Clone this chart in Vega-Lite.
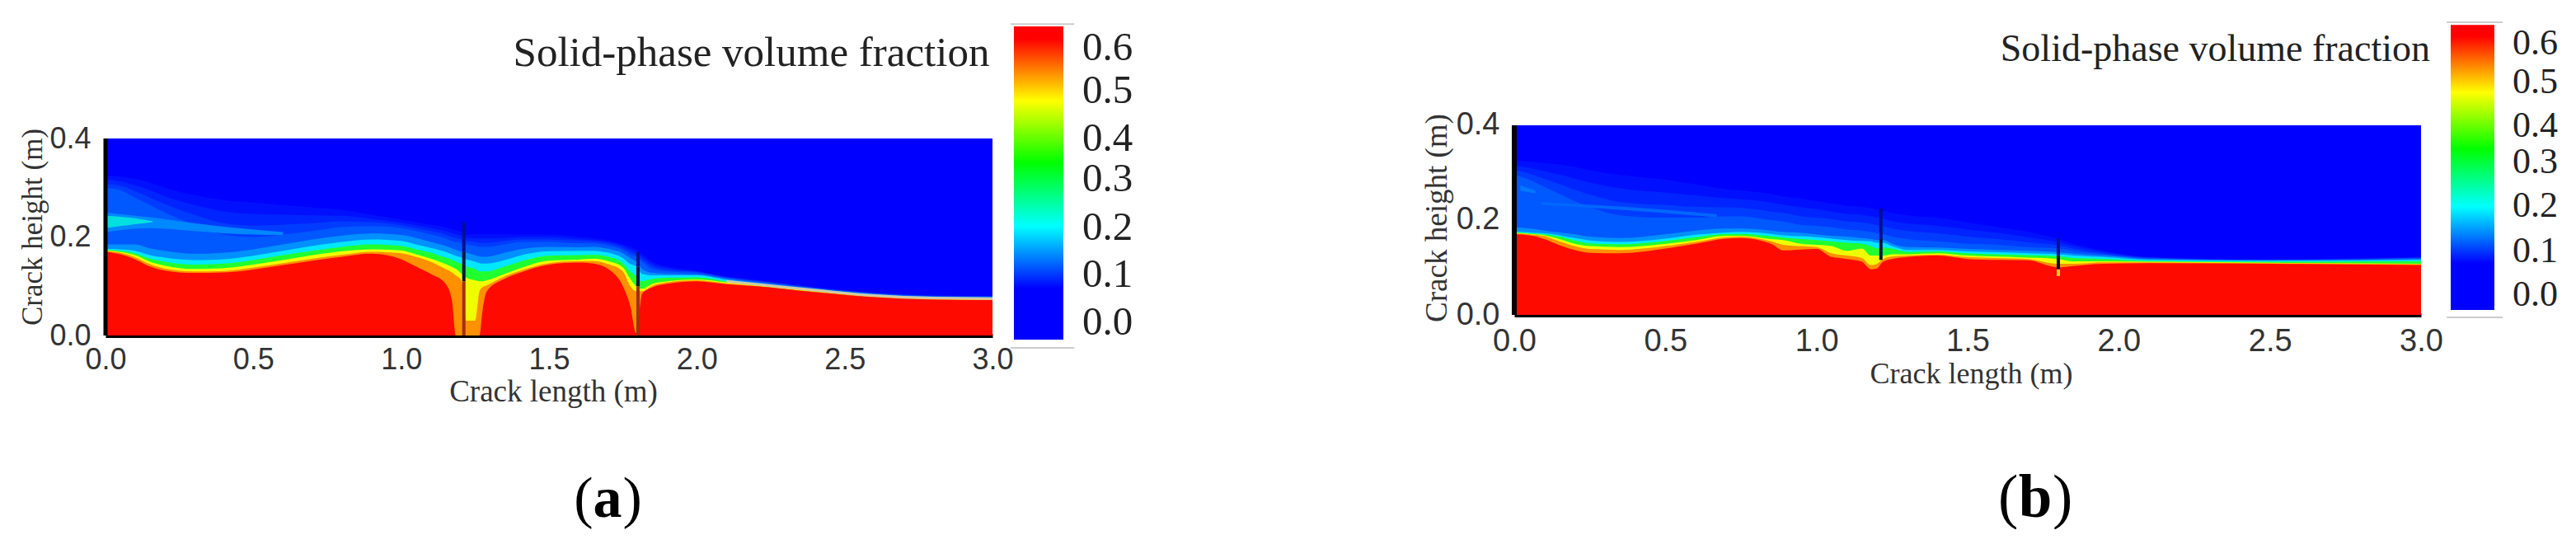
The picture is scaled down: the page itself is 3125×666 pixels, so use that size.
{
"$schema":"https://vega.github.io/schema/vega-lite/v6.json",
"padding":{"left":22,"top":0,"right":0,"bottom":0},
"background":"white",
"config":{"view":{"stroke":null},"axis":{"grid":false,"ticks":false}},
"datasets":{
"bandsA":[
{"x":0,"r":0.17,"o":0.172,"y":0.173,"g":0.174,"c":0.176,"b3":0.185,"b2":0.3,"h3":0.308,"h2":0.317,"b1":0.325},
{"x":0.05,"r":0.165,"o":0.168,"y":0.17,"g":0.172,"c":0.175,"b3":0.185,"b2":0.295,"h3":0.304,"h2":0.313,"b1":0.322},
{"x":0.1,"r":0.155,"o":0.159,"y":0.163,"g":0.167,"c":0.172,"b3":0.185,"b2":0.28,"h3":0.293,"h2":0.305,"b1":0.318},
{"x":0.15,"r":0.14,"o":0.145,"y":0.15,"g":0.156,"c":0.163,"b3":0.177,"b2":0.265,"h3":0.28,"h2":0.295,"b1":0.31},
{"x":0.2,"r":0.132,"o":0.136,"y":0.142,"g":0.15,"c":0.158,"b3":0.172,"b2":0.25,"h3":0.267,"h2":0.283,"b1":0.3},
{"x":0.3,"r":0.127,"o":0.13,"y":0.135,"g":0.144,"c":0.153,"b3":0.166,"b2":0.225,"h3":0.245,"h2":0.265,"b1":0.285},
{"x":0.4,"r":0.128,"o":0.131,"y":0.137,"g":0.146,"c":0.155,"b3":0.168,"b2":0.205,"h3":0.228,"h2":0.252,"b1":0.275},
{"x":0.5,"r":0.134,"o":0.138,"y":0.144,"g":0.153,"c":0.162,"b3":0.175,"b2":0.2,"h3":0.223,"h2":0.247,"b1":0.27},
{"x":0.6,"r":0.143,"o":0.147,"y":0.153,"g":0.163,"c":0.172,"b3":0.185,"b2":0.205,"h3":0.225,"h2":0.245,"b1":0.265},
{"x":0.7,"r":0.152,"o":0.156,"y":0.163,"g":0.172,"c":0.182,"b3":0.195,"b2":0.212,"h3":0.228,"h2":0.244,"b1":0.26},
{"x":0.8,"r":0.16,"o":0.164,"y":0.171,"g":0.18,"c":0.19,"b3":0.203,"b2":0.22,"h3":0.232,"h2":0.243,"b1":0.255},
{"x":0.9,"r":0.166,"o":0.17,"y":0.175,"g":0.185,"c":0.195,"b3":0.207,"b2":0.222,"h3":0.23,"h2":0.237,"b1":0.245},
{"x":1.0,"r":0.155,"o":0.167,"y":0.173,"g":0.182,"c":0.192,"b3":0.204,"b2":0.218,"h3":0.224,"h2":0.229,"b1":0.235},
{"x":1.05,"r":0.14,"o":0.16,"y":0.165,"g":0.175,"c":0.185,"b3":0.198,"b2":0.212,"h3":0.218,"h2":0.224,"b1":0.23},
{"x":1.1,"r":0.125,"o":0.15,"y":0.156,"g":0.168,"c":0.178,"b3":0.19,"b2":0.205,"h3":0.212,"h2":0.218,"b1":0.225},
{"x":1.15,"r":0.105,"o":0.135,"y":0.145,"g":0.158,"c":0.17,"b3":0.182,"b2":0.197,"h3":0.205,"h2":0.212,"b1":0.22},
{"x":1.172,"r":0.07,"o":0.128,"y":0.139,"g":0.154,"c":0.165,"b3":0.177,"b2":0.192,"h3":0.2,"h2":0.208,"b1":0.216},
{"x":1.185,"r":0,"o":0.122,"y":0.135,"g":0.15,"c":0.162,"b3":0.174,"b2":0.19,"h3":0.198,"h2":0.206,"b1":0.214},
{"x":1.205,"r":0,"o":0.11,"y":0.125,"g":0.145,"c":0.158,"b3":0.17,"b2":0.187,"h3":0.195,"h2":0.202,"b1":0.21},
{"x":1.22,"r":0,"o":0.03,"y":0.118,"g":0.14,"c":0.155,"b3":0.168,"b2":0.185,"h3":0.192,"h2":0.198,"b1":0.205},
{"x":1.25,"r":0,"o":0.03,"y":0.112,"g":0.135,"c":0.15,"b3":0.163,"b2":0.182,"h3":0.19,"h2":0.197,"b1":0.205},
{"x":1.265,"r":0,"o":0.09,"y":0.11,"g":0.13,"c":0.147,"b3":0.16,"b2":0.18,"h3":0.188,"h2":0.197,"b1":0.205},
{"x":1.275,"r":0.05,"o":0.098,"y":0.11,"g":0.13,"c":0.146,"b3":0.16,"b2":0.18,"h3":0.188,"h2":0.197,"b1":0.205},
{"x":1.29,"r":0.09,"o":0.102,"y":0.112,"g":0.13,"c":0.146,"b3":0.16,"b2":0.18,"h3":0.188,"h2":0.197,"b1":0.205},
{"x":1.35,"r":0.115,"o":0.12,"y":0.125,"g":0.14,"c":0.153,"b3":0.168,"b2":0.185,"h3":0.192,"h2":0.198,"b1":0.205},
{"x":1.4,"r":0.127,"o":0.131,"y":0.136,"g":0.15,"c":0.162,"b3":0.175,"b2":0.19,"h3":0.195,"h2":0.2,"b1":0.205},
{"x":1.5,"r":0.144,"o":0.147,"y":0.152,"g":0.162,"c":0.171,"b3":0.18,"b2":0.19,"h3":0.195,"h2":0.2,"b1":0.205},
{"x":1.6,"r":0.148,"o":0.151,"y":0.154,"g":0.163,"c":0.172,"b3":0.179,"b2":0.187,"h3":0.192,"h2":0.196,"b1":0.2},
{"x":1.65,"r":0.146,"o":0.151,"y":0.156,"g":0.164,"c":0.172,"b3":0.18,"b2":0.187,"h3":0.191,"h2":0.194,"b1":0.197},
{"x":1.7,"r":0.135,"o":0.145,"y":0.151,"g":0.16,"c":0.168,"b3":0.176,"b2":0.183,"h3":0.187,"h2":0.19,"b1":0.193},
{"x":1.75,"r":0.1,"o":0.13,"y":0.138,"g":0.147,"c":0.157,"b3":0.167,"b2":0.174,"h3":0.178,"h2":0.182,"b1":0.185},
{"x":1.775,"r":0.06,"o":0.1,"y":0.115,"g":0.13,"c":0.145,"b3":0.157,"b2":0.165,"h3":0.17,"h2":0.175,"b1":0.18},
{"x":1.795,"r":0.005,"o":0.09,"y":0.1,"g":0.12,"c":0.14,"b3":0.15,"b2":0.16,"h3":0.165,"h2":0.17,"b1":0.175},
{"x":1.815,"r":0.085,"o":0.09,"y":0.095,"g":0.11,"c":0.125,"b3":0.135,"b2":0.15,"h3":0.155,"h2":0.16,"b1":0.165},
{"x":1.85,"r":0.098,"o":0.101,"y":0.105,"g":0.115,"c":0.122,"b3":0.127,"b2":0.135,"h3":0.14,"h2":0.145,"b1":0.15},
{"x":1.9,"r":0.105,"o":0.108,"y":0.11,"g":0.117,"c":0.122,"b3":0.125,"b2":0.13,"h3":0.133,"h2":0.137,"b1":0.14},
{"x":2.0,"r":0.11,"o":0.112,"y":0.114,"g":0.118,"c":0.122,"b3":0.124,"b2":0.127,"h3":0.129,"h2":0.13,"b1":0.132},
{"x":2.1,"r":0.104,"o":0.106,"y":0.108,"g":0.11,"c":0.113,"b3":0.115,"b2":0.117,"h3":0.118,"h2":0.119,"b1":0.12},
{"x":2.2,"r":0.1,"o":0.101,"y":0.102,"g":0.104,"c":0.106,"b3":0.108,"b2":0.11,"h3":0.111,"h2":0.112,"b1":0.113},
{"x":2.4,"r":0.088,"o":0.089,"y":0.09,"g":0.092,"c":0.094,"b3":0.095,"b2":0.096,"h3":0.097,"h2":0.097,"b1":0.098},
{"x":2.6,"r":0.078,"o":0.079,"y":0.08,"g":0.081,"c":0.083,"b3":0.084,"b2":0.085,"h3":0.086,"h2":0.086,"b1":0.087},
{"x":2.8,"r":0.073,"o":0.074,"y":0.075,"g":0.076,"c":0.078,"b3":0.079,"b2":0.08,"h3":0.08,"h2":0.081,"b1":0.081},
{"x":3.0,"r":0.072,"o":0.073,"y":0.074,"g":0.075,"c":0.077,"b3":0.078,"b2":0.079,"h3":0.079,"h2":0.08,"b1":0.08}
],
"bandsB":[
{"x":0,"r":0.17,"o":0.172,"y":0.173,"g":0.175,"c":0.176,"b3":0.185,"b2":0.295,"h3":0.305,"h2":0.315,"b1":0.325},
{"x":0.05,"r":0.168,"o":0.17,"y":0.171,"g":0.172,"c":0.174,"b3":0.182,"b2":0.285,"h3":0.298,"h2":0.31,"b1":0.323},
{"x":0.1,"r":0.16,"o":0.166,"y":0.168,"g":0.17,"c":0.172,"b3":0.178,"b2":0.27,"h3":0.287,"h2":0.303,"b1":0.32},
{"x":0.15,"r":0.147,"o":0.155,"y":0.16,"g":0.165,"c":0.168,"b3":0.174,"b2":0.255,"h3":0.276,"h2":0.296,"b1":0.317},
{"x":0.2,"r":0.137,"o":0.145,"y":0.15,"g":0.157,"c":0.162,"b3":0.17,"b2":0.24,"h3":0.264,"h2":0.288,"b1":0.312},
{"x":0.25,"r":0.131,"o":0.139,"y":0.145,"g":0.151,"c":0.157,"b3":0.165,"b2":0.228,"h3":0.254,"h2":0.279,"b1":0.305},
{"x":0.35,"r":0.13,"o":0.137,"y":0.143,"g":0.149,"c":0.154,"b3":0.162,"b2":0.21,"h3":0.238,"h2":0.267,"b1":0.295},
{"x":0.5,"r":0.14,"o":0.145,"y":0.15,"g":0.156,"c":0.161,"b3":0.17,"b2":0.205,"h3":0.232,"h2":0.258,"b1":0.285},
{"x":0.6,"r":0.15,"o":0.154,"y":0.158,"g":0.164,"c":0.169,"b3":0.178,"b2":0.205,"h3":0.228,"h2":0.252,"b1":0.275},
{"x":0.7,"r":0.161,"o":0.164,"y":0.167,"g":0.171,"c":0.174,"b3":0.182,"b2":0.208,"h3":0.227,"h2":0.246,"b1":0.265},
{"x":0.75,"r":0.162,"o":0.165,"y":0.167,"g":0.171,"c":0.175,"b3":0.182,"b2":0.208,"h3":0.226,"h2":0.244,"b1":0.262},
{"x":0.85,"r":0.15,"o":0.155,"y":0.16,"g":0.166,"c":0.171,"b3":0.178,"b2":0.2,"h3":0.218,"h2":0.237,"b1":0.255},
{"x":0.89,"r":0.136,"o":0.148,"y":0.158,"g":0.163,"c":0.168,"b3":0.175,"b2":0.197,"h3":0.215,"h2":0.232,"b1":0.25},
{"x":0.95,"r":0.138,"o":0.145,"y":0.15,"g":0.16,"c":0.166,"b3":0.173,"b2":0.19,"h3":0.208,"h2":0.227,"b1":0.245},
{"x":1.0,"r":0.139,"o":0.143,"y":0.148,"g":0.158,"c":0.164,"b3":0.17,"b2":0.188,"h3":0.205,"h2":0.223,"b1":0.24},
{"x":1.05,"r":0.122,"o":0.13,"y":0.145,"g":0.155,"c":0.161,"b3":0.167,"b2":0.185,"h3":0.202,"h2":0.218,"b1":0.235},
{"x":1.1,"r":0.118,"o":0.125,"y":0.135,"g":0.152,"c":0.158,"b3":0.165,"b2":0.18,"h3":0.197,"h2":0.213,"b1":0.23},
{"x":1.15,"r":0.112,"o":0.12,"y":0.14,"g":0.15,"c":0.156,"b3":0.162,"b2":0.178,"h3":0.195,"h2":0.211,"b1":0.228},
{"x":1.18,"r":0.096,"o":0.105,"y":0.125,"g":0.145,"c":0.155,"b3":0.16,"b2":0.175,"h3":0.192,"h2":0.208,"b1":0.225},
{"x":1.2,"r":0.098,"o":0.108,"y":0.125,"g":0.14,"c":0.152,"b3":0.158,"b2":0.172,"h3":0.189,"h2":0.205,"b1":0.222},
{"x":1.22,"r":0.112,"o":0.118,"y":0.125,"g":0.142,"c":0.152,"b3":0.158,"b2":0.17,"h3":0.187,"h2":0.203,"b1":0.22},
{"x":1.25,"r":0.118,"o":0.123,"y":0.128,"g":0.14,"c":0.145,"b3":0.15,"b2":0.165,"h3":0.182,"h2":0.198,"b1":0.215},
{"x":1.3,"r":0.122,"o":0.125,"y":0.128,"g":0.133,"c":0.137,"b3":0.143,"b2":0.16,"h3":0.177,"h2":0.193,"b1":0.21},
{"x":1.4,"r":0.125,"o":0.127,"y":0.13,"g":0.134,"c":0.137,"b3":0.142,"b2":0.155,"h3":0.172,"h2":0.188,"b1":0.205},
{"x":1.5,"r":0.118,"o":0.122,"y":0.125,"g":0.13,"c":0.134,"b3":0.139,"b2":0.15,"h3":0.165,"h2":0.18,"b1":0.195},
{"x":1.6,"r":0.116,"o":0.12,"y":0.123,"g":0.128,"c":0.132,"b3":0.137,"b2":0.148,"h3":0.16,"h2":0.173,"b1":0.185},
{"x":1.7,"r":0.115,"o":0.118,"y":0.121,"g":0.126,"c":0.13,"b3":0.135,"b2":0.143,"h3":0.153,"h2":0.164,"b1":0.175},
{"x":1.8,"r":0.1,"o":0.108,"y":0.118,"g":0.124,"c":0.128,"b3":0.132,"b2":0.14,"h3":0.147,"h2":0.153,"b1":0.16},
{"x":1.85,"r":0.103,"o":0.108,"y":0.113,"g":0.12,"c":0.125,"b3":0.129,"b2":0.135,"h3":0.14,"h2":0.145,"b1":0.15},
{"x":1.95,"r":0.108,"o":0.111,"y":0.113,"g":0.118,"c":0.122,"b3":0.125,"b2":0.128,"h3":0.13,"h2":0.133,"b1":0.135},
{"x":2.1,"r":0.109,"o":0.111,"y":0.112,"g":0.114,"c":0.116,"b3":0.118,"b2":0.12,"h3":0.121,"h2":0.121,"b1":0.122},
{"x":2.5,"r":0.108,"o":0.109,"y":0.11,"g":0.112,"c":0.114,"b3":0.115,"b2":0.116,"h3":0.116,"h2":0.117,"b1":0.117},
{"x":3.0,"r":0.105,"o":0.107,"y":0.108,"g":0.113,"c":0.116,"b3":0.118,"b2":0.12,"h3":0.121,"h2":0.121,"b1":0.122}
],
"plumeA":[
{"x":0,"y":0.25,"y2":0.21,"p":"light"},{"x":0.15,"y":0.24,"y2":0.218,"p":"light"},{"x":0.3,"y":0.228,"y2":0.212,"p":"light"},{"x":0.45,"y":0.218,"y2":0.206,"p":"light"},{"x":0.6,"y":0.21,"y2":0.204,"p":"light"},
{"x":0,"y":0.243,"y2":0.218,"p":"bright"},{"x":0.05,"y":0.241,"y2":0.222,"p":"bright"},{"x":0.1,"y":0.238,"y2":0.226,"p":"bright"},{"x":0.16,"y":0.232,"y2":0.23,"p":"bright"}
],
"plumeB":[
{"x":0.09,"y":0.238,"y2":0.232,"p":"soft"},{"x":0.39,"y":0.227,"y2":0.22,"p":"soft"},{"x":0.67,"y":0.212,"y2":0.206,"p":"soft"},
{"x":0.02,"y":0.273,"y2":0.262,"p":"blob"},{"x":0.07,"y":0.262,"y2":0.256,"p":"blob"}
],
"cracksA":[
{"x":1.212,"y":0.23,"y2":0.17,"k":"navy"},{"x":1.212,"y":0.17,"y2":0.11,"k":"dark"},{"x":1.212,"y":0.11,"y2":0,"k":"brown"},
{"x":1.801,"y":0.17,"y2":0.14,"k":"navy"},{"x":1.801,"y":0.14,"y2":0.1,"k":"dark"},{"x":1.801,"y":0.1,"y2":0,"k":"brown"}
],
"cracksB":[
{"x":1.213,"y":0.224,"y2":0.16,"k":"navy"},{"x":1.213,"y":0.16,"y2":0.116,"k":"dark"},
{"x":1.8,"y":0.16,"y2":0.125,"k":"navy"},{"x":1.8,"y":0.125,"y2":0.096,"k":"dark"},{"x":1.8,"y":0.096,"y2":0.082,"k":"spot"}
],
"field":[{"x":0,"x2":3,"y":0,"y2":0.4}],
"leftEdge":[{"x":0,"y":0,"y2":0.4}],
"titleA":[{"x":2.99,"y":0.572,"label":"Solid-phase volume fraction"}],
"titleB":[{"x":3.03,"y":0.56,"label":"Solid-phase volume fraction"}],
"capPlainA":[{"x":1.617,"y":-0.368,"label":"("},{"x":1.782,"y":-0.368,"label":")"}],
"capBoldA":[{"x":1.698,"y":-0.368,"label":"a"}],
"capPlainB":[{"x":1.634,"y":-0.426,"label":"("},{"x":1.814,"y":-0.426,"label":")"}],
"capBoldB":[{"x":1.724,"y":-0.426,"label":"b"}],
"barA":[{"x":0,"x2":1,"lo":-0.038,"hi":0.647}],
"barB":[{"x":0,"x2":1,"lo":-0.0354,"hi":0.645}],
"edgeA":[{"x":-0.07,"x2":1.22,"v":0.652},{"x":-0.07,"x2":1.22,"v":-0.056}],
"edgeB":[{"x":-0.09,"x2":1.19,"v":0.651},{"x":-0.09,"x2":1.19,"v":-0.053}],
"ticksA":[{"x":1.383,"at":0.6,"label":"0.6"},{"x":1.383,"at":0.506,"label":"0.5"},{"x":1.383,"at":0.402,"label":"0.4"},{"x":1.383,"at":0.314,"label":"0.3"},{"x":1.383,"at":0.207,"label":"0.2"},{"x":1.383,"at":0.105,"label":"0.1"},{"x":1.383,"at":0,"label":"0.0"}],
"ticksB":[{"x":1.415,"at":0.6,"label":"0.6"},{"x":1.415,"at":0.508,"label":"0.5"},{"x":1.415,"at":0.404,"label":"0.4"},{"x":1.415,"at":0.317,"label":"0.3"},{"x":1.415,"at":0.212,"label":"0.2"},{"x":1.415,"at":0.104,"label":"0.1"},{"x":1.415,"at":0,"label":"0.0"}]
},
"hconcat":[
{"hconcat":[
{"width":1076,"height":407,"layer":[
{"data":{"name":"field"},"mark":{"type":"rect","color":"#0000ff"},"encoding":{
"x":{"field":"x","type":"quantitative","scale":{"domain":[0,3],"nice":false},"axis":{"values":[0,0.5,1,1.5,2,2.5,3],"format":".1f","title":"Crack length (m)","titleFont":"Liberation Serif","titleFontSize":37,"titleFontWeight":"normal","titleColor":"#333333","titleBaseline":"middle","titleX":543,"titleY":68,"labelFont":"Liberation Sans","labelFontSize":36,"labelColor":"#333333","labelPadding":12,"labelFlush":false,"labelOverlap":false,"labelBound":false,"domainColor":"#000000","domainWidth":5}},
"x2":{"field":"x2"},
"y":{"field":"y","type":"quantitative","scale":{"domain":[0,0.6812],"nice":false},"axis":{"values":[0,0.2,0.4],"format":".1f","domain":false,"title":"Crack height (m)","titleFont":"Liberation Serif","titleFontSize":35,"titleFontWeight":"normal","titleColor":"#333333","titleBaseline":"middle","titleX":-89,"titleY":275,"labelFont":"Liberation Sans","labelFontSize":36,"labelColor":"#333333","labelPadding":18,"labelOverlap":false,"labelBound":false}},
"y2":{"field":"y2"}}},
{"data":{"name":"bandsA"},"transform":[{"fold":["b1","h2","h3","b2","b3","c","g","y","o","r"],"as":["band","h"]}],"mark":{"type":"area","interpolate":"monotone"},"encoding":{
"x":{"field":"x","type":"quantitative"},
"y":{"field":"h","type":"quantitative","stack":null},
"color":{"field":"band","type":"nominal","legend":null,"scale":{"domain":["b1","h2","h3","b2","b3","c","g","y","o","r"],"range":["#0010ff","#0024ff","#003cff","#0058ff","#0090ff","#00e8ff","#20ff30","#f0ff00","#ff9000","#ff0a00"]}}}},
{"data":{"name":"plumeA"},"mark":{"type":"area","interpolate":"monotone"},"encoding":{
"x":{"field":"x","type":"quantitative"},"y":{"field":"y","type":"quantitative"},"y2":{"field":"y2"},
"color":{"field":"p","type":"nominal","legend":null,"scale":{"domain":["light","bright"],"range":["#0088ff","#00e0e0"]}}}},
{"data":{"name":"bandsA"},"transform":[{"filter":{"field":"x","gte":2.1}}],"mark":{"type":"line","color":"#d0c8a8","strokeWidth":3,"interpolate":"monotone"},"encoding":{"x":{"field":"x","type":"quantitative"},"y":{"field":"g","type":"quantitative"}}},
{"data":{"name":"cracksA"},"mark":{"type":"rule","strokeWidth":4},"encoding":{
"x":{"field":"x","type":"quantitative"},"y":{"field":"y","type":"quantitative"},"y2":{"field":"y2"},
"color":{"field":"k","type":"nominal","legend":null,"scale":{"domain":["navy","dark","brown"],"range":["#000f90","#001040","#a03010"]}}}},
{"data":{"name":"leftEdge"},"mark":{"type":"rule","color":"#000000","strokeWidth":5},"encoding":{"x":{"field":"x","type":"quantitative"},"y":{"field":"y","type":"quantitative"},"y2":{"field":"y2"}}},
{"data":{"name":"titleA"},"mark":{"type":"text","font":"Liberation Serif","fontSize":51,"align":"right","baseline":"middle","color":"#222222"},"encoding":{"x":{"field":"x","type":"quantitative"},"y":{"field":"y","type":"quantitative"},"text":{"field":"label"}}},
{"data":{"name":"capPlainA"},"mark":{"type":"text","font":"Liberation Serif","fontSize":70,"align":"center","baseline":"alphabetic","color":"#000000"},"encoding":{"x":{"field":"x","type":"quantitative"},"y":{"field":"y","type":"quantitative"},"text":{"field":"label"}}},
{"data":{"name":"capBoldA"},"mark":{"type":"text","font":"Liberation Serif","fontSize":70,"fontWeight":"bold","align":"center","baseline":"alphabetic","color":"#000000"},"encoding":{"x":{"field":"x","type":"quantitative"},"y":{"field":"y","type":"quantitative"},"text":{"field":"label"}}}
],"resolve":{"scale":{"color":"independent"}}},
{"width":60,"height":412,"layer":[
{"data":{"name":"barA"},"mark":{"type":"rect","color":{"gradient":"linear","x1":0,"y1":1,"x2":0,"y2":0,"stops":[{"offset":0,"color":"#0000ff"},{"offset":0.163,"color":"#0000ff"},{"offset":0.362,"color":"#00ffff"},{"offset":0.565,"color":"#00ff00"},{"offset":0.763,"color":"#ffff00"},{"offset":0.96,"color":"#ff0000"},{"offset":1,"color":"#ff0000"}]}},"encoding":{
"x":{"field":"x","type":"quantitative","axis":null,"scale":{"domain":[0,1],"nice":false}},"x2":{"field":"x2"},
"y":{"field":"lo","type":"quantitative","axis":null,"scale":{"domain":[-0.0378,0.7045],"nice":false,"zero":false}},"y2":{"field":"hi"}}},
{"data":{"name":"edgeA"},"mark":{"type":"rule","color":"#cccccc","strokeWidth":2},"encoding":{"x":{"field":"x","type":"quantitative"},"x2":{"field":"x2"},"y":{"field":"v","type":"quantitative"}}},
{"data":{"name":"ticksA"},"mark":{"type":"text","font":"Liberation Serif","fontSize":49,"align":"left","baseline":"middle","color":"#222222"},"encoding":{"x":{"field":"x","type":"quantitative"},"y":{"field":"at","type":"quantitative"},"text":{"field":"label"}}}
]}
],"spacing":26,"bounds":"flush"},
{"hconcat":[
{"width":1100,"height":382,"layer":[
{"data":{"name":"field"},"mark":{"type":"rect","color":"#0000ff"},"encoding":{
"x":{"field":"x","type":"quantitative","scale":{"domain":[0,3],"nice":false},"axis":{"values":[0,0.5,1,1.5,2,2.5,3],"format":".1f","title":"Crack length (m)","titleFont":"Liberation Serif","titleFontSize":36,"titleFontWeight":"normal","titleColor":"#333333","titleBaseline":"middle","titleX":554,"titleY":71,"labelFont":"Liberation Sans","labelFontSize":38,"labelColor":"#333333","labelPadding":13,"labelFlush":false,"labelOverlap":false,"labelBound":false,"domainColor":"#000000","domainWidth":5}},
"x2":{"field":"x2"},
"y":{"field":"y","type":"quantitative","scale":{"domain":[0,0.6643],"nice":false},"axis":{"values":[0,0.2,0.4],"format":".1f","domain":false,"title":"Crack height (m)","titleFont":"Liberation Serif","titleFontSize":37,"titleFontWeight":"normal","titleColor":"#333333","titleBaseline":"middle","titleX":-94,"titleY":264,"labelFont":"Liberation Sans","labelFontSize":38,"labelColor":"#333333","labelPadding":18,"labelOverlap":false,"labelBound":false}},
"y2":{"field":"y2"}}},
{"data":{"name":"bandsB"},"transform":[{"fold":["b1","h2","h3","b2","b3","c","g","y","o","r"],"as":["band","h"]}],"mark":{"type":"area","interpolate":"monotone"},"encoding":{
"x":{"field":"x","type":"quantitative"},
"y":{"field":"h","type":"quantitative","stack":null},
"color":{"field":"band","type":"nominal","legend":null,"scale":{"domain":["b1","h2","h3","b2","b3","c","g","y","o","r"],"range":["#0010ff","#0024ff","#003cff","#0058ff","#0090ff","#00e8ff","#20ff30","#f0ff00","#ff9000","#ff0a00"]}}}},
{"data":{"name":"plumeB"},"mark":{"type":"area","interpolate":"monotone"},"encoding":{
"x":{"field":"x","type":"quantitative"},"y":{"field":"y","type":"quantitative"},"y2":{"field":"y2"},
"color":{"field":"p","type":"nominal","legend":null,"scale":{"domain":["soft","blob"],"range":["#0068ff","#0078ff"]}}}},
{"data":{"name":"cracksB"},"mark":{"type":"rule","strokeWidth":4},"encoding":{
"x":{"field":"x","type":"quantitative"},"y":{"field":"y","type":"quantitative"},"y2":{"field":"y2"},
"color":{"field":"k","type":"nominal","legend":null,"scale":{"domain":["navy","dark","spot"],"range":["#000f90","#001040","#f0d020"]}}}},
{"data":{"name":"leftEdge"},"mark":{"type":"rule","color":"#000000","strokeWidth":6},"encoding":{"x":{"field":"x","type":"quantitative"},"y":{"field":"y","type":"quantitative"},"y2":{"field":"y2"}}},
{"data":{"name":"titleB"},"mark":{"type":"text","font":"Liberation Serif","fontSize":46,"align":"right","baseline":"middle","color":"#222222"},"encoding":{"x":{"field":"x","type":"quantitative"},"y":{"field":"y","type":"quantitative"},"text":{"field":"label"}}},
{"data":{"name":"capPlainB"},"mark":{"type":"text","font":"Liberation Serif","fontSize":73,"align":"center","baseline":"alphabetic","color":"#000000"},"encoding":{"x":{"field":"x","type":"quantitative"},"y":{"field":"y","type":"quantitative"},"text":{"field":"label"}}},
{"data":{"name":"capBoldB"},"mark":{"type":"text","font":"Liberation Serif","fontSize":73,"fontWeight":"bold","align":"center","baseline":"alphabetic","color":"#000000"},"encoding":{"x":{"field":"x","type":"quantitative"},"y":{"field":"y","type":"quantitative"},"text":{"field":"label"}}}
],"resolve":{"scale":{"color":"independent"}}},
{"width":53,"height":376,"layer":[
{"data":{"name":"barB"},"mark":{"type":"rect","color":{"gradient":"linear","x1":0,"y1":1,"x2":0,"y2":0,"stops":[{"offset":0,"color":"#0000ff"},{"offset":0.163,"color":"#0000ff"},{"offset":0.362,"color":"#00ffff"},{"offset":0.565,"color":"#00ff00"},{"offset":0.763,"color":"#ffff00"},{"offset":0.96,"color":"#ff0000"},{"offset":1,"color":"#ff0000"}]}},"encoding":{
"x":{"field":"x","type":"quantitative","axis":null,"scale":{"domain":[0,1],"nice":false}},"x2":{"field":"x2"},
"y":{"field":"lo","type":"quantitative","axis":null,"scale":{"domain":[-0.0354,0.7043],"nice":false,"zero":false}},"y2":{"field":"hi"}}},
{"data":{"name":"edgeB"},"mark":{"type":"rule","color":"#cccccc","strokeWidth":2},"encoding":{"x":{"field":"x","type":"quantitative"},"x2":{"field":"x2"},"y":{"field":"v","type":"quantitative"}}},
{"data":{"name":"ticksB"},"mark":{"type":"text","font":"Liberation Serif","fontSize":44,"align":"left","baseline":"middle","color":"#222222"},"encoding":{"x":{"field":"x","type":"quantitative"},"y":{"field":"at","type":"quantitative"},"text":{"field":"label"}}}
]}
],"spacing":36,"bounds":"flush"}
],"spacing":1709,"bounds":"flush"
}
